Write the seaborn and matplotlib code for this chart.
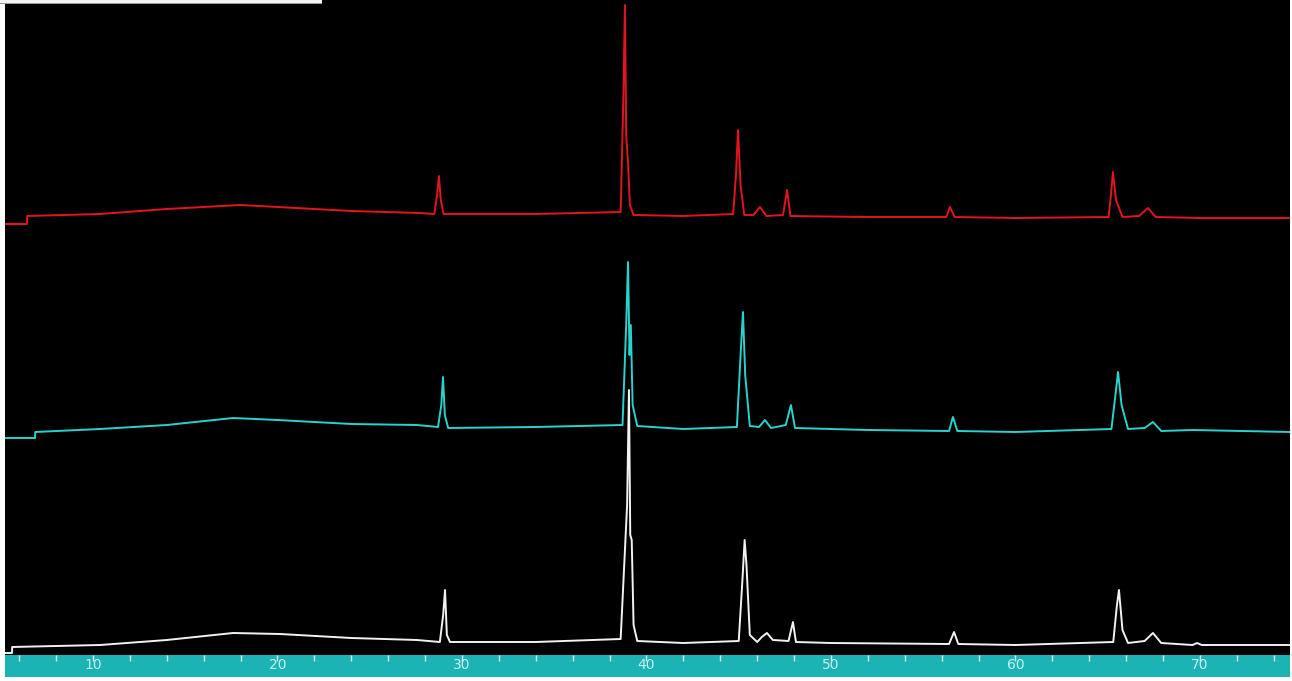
import matplotlib
matplotlib.use("Agg")
import matplotlib.pyplot as plt
from matplotlib.patches import Rectangle
import numpy as np
import pandas as pd
import seaborn as sns

# ---- data (2-theta in degrees, intensity in arbitrary units) ----
white_x = [5.23, 5.61, 5.62, 8.0, 10.38, 14.0, 17.59, 20.14, 24.0, 27.56, 28.8, 28.98, 29.08, 29.18, 29.35,
           34.0, 38.6, 38.95, 39.05, 39.12, 39.2, 39.3, 39.5, 42.0, 45.0, 45.2, 45.32, 45.42, 45.6, 46.0,
           46.25, 46.53, 46.85, 47.7, 47.94, 48.1, 50.0, 56.4, 56.67, 56.9, 60.0, 65.3, 65.5, 65.61, 65.8,
           66.1, 67.0, 67.45, 67.9, 69.6, 69.84, 70.1, 74.88]
white_y = [2, 2, 8, 9, 10, 15, 22, 21, 17, 15, 13, 40, 65, 20, 13,
           13, 16, 150, 265, 120, 115, 30, 14, 12, 14, 75, 115, 90, 20, 13,
           18, 22, 15, 14, 33, 13, 12, 11, 23, 11, 10, 13, 50, 65, 25,
           12, 14, 22, 12, 10, 12, 10, 10]

cyan_x = [5.23, 6.86, 6.87, 10.38, 14.0, 17.59, 20.0, 24.0, 27.56, 28.7, 28.88, 28.97, 29.07, 29.25,
          34.0, 38.7, 38.9, 39.0, 39.08, 39.15, 39.25, 39.5, 42.0, 44.9, 45.1, 45.23, 45.35, 45.6,
          46.1, 46.42, 46.75, 47.55, 47.83, 48.05, 52.0, 56.4, 56.61, 56.85, 60.0, 65.2, 65.45, 65.56,
          65.75, 66.1, 67.0, 67.45, 67.9, 69.62, 74.88]
cyan_y = [217, 217, 223, 226, 230, 237, 235, 231, 230, 228, 250, 278, 240, 227,
          228, 230, 330, 393, 300, 330, 250, 229, 226, 228, 300, 343, 280, 229,
          228, 235, 227, 230, 250, 227, 225, 224, 238, 224, 223, 226, 265, 283,
          250, 226, 227, 233, 224, 225, 223]

red_x = [5.23, 6.42, 6.43, 10.38, 14.0, 17.97, 20.0, 24.0, 27.72, 28.5, 28.65, 28.75, 28.85, 29.0,
         34.0, 38.6, 38.75, 38.83, 38.9, 39.0, 39.1, 39.3, 42.0, 44.7, 44.85, 44.96, 45.1, 45.3,
         45.8, 46.15, 46.5, 47.4, 47.62, 47.8, 52.0, 56.25, 56.45, 56.7, 60.0, 65.05, 65.2, 65.28,
         65.45, 65.8, 66.7, 67.18, 67.6, 70.0, 74.88]
red_y = [431, 431, 439, 441, 446, 450, 448, 444, 442, 441, 460, 479, 455, 441,
         441, 443, 560, 650, 520, 492, 450, 440, 439, 441, 480, 525, 470, 440,
         440, 448, 439, 440, 465, 439, 438, 438, 448, 438, 437, 438, 465, 483,
         455, 438, 439, 447, 438, 437, 437]

tick_values = list(range(6, 75, 2))

series_names = ["white", "cyan", "red"]
series_colors = {"white": "#f2f2f2", "cyan": "#27d3cf", "red": "#e3141e"}

frames = []
for name, xs, ys in [("white", white_x, white_y), ("cyan", cyan_x, cyan_y), ("red", red_x, red_y)]:
    frames.append(pd.DataFrame({"two_theta": xs, "intensity": ys, "sample": name}))
df = pd.concat(frames, ignore_index=True)

W, H = 1292, 681
fig = plt.figure(figsize=(W / 100, H / 100), dpi=100, facecolor="white")

ax = fig.add_axes([5 / W, 26 / H, 1285 / W, 655 / H])
ax.set_facecolor("black")
sns.lineplot(data=df, x="two_theta", y="intensity", hue="sample", hue_order=series_names,
             palette=series_colors, estimator=None, sort=False, units="sample",
             legend=False, linewidth=1.4, ax=ax)
ax.set_xlim(5.23, 74.88)
ax.set_ylim(0, 655)
ax.set_xlabel("")
ax.set_ylabel("")
ax.set_xticks([])
ax.set_yticks([])
for s in ax.spines.values():
    s.set_visible(False)

band = fig.add_axes([5 / W, 4 / H, 1285 / W, 22 / H])
band.set_facecolor("#1bb3b3")
band.set_xlim(5.23, 74.88)
band.set_ylim(0, 1)
band.set_yticks([])
band.set_xticks(tick_values)
band.set_xticklabels([str(v) if v % 10 == 0 else "" for v in tick_values])
band.tick_params(axis="x", which="both", top=True, bottom=False, labelbottom=True, labeltop=False,
                 direction="in", length=4.5, width=1, color="#d9f7f7", labelcolor="#c6f2f2",
                 labelsize=10, pad=-14)
for s in band.spines.values():
    s.set_visible(False)

# top-left strip of the window frame
fig.patches.append(Rectangle((0, 1 - 3 / H), 322 / W, 3 / H, transform=fig.transFigure,
                             facecolor="#f4f4f4", edgecolor="none", zorder=10))
fig.patches.append(Rectangle((0, 1 - 4 / H), 322 / W, 1 / H, transform=fig.transFigure,
                             facecolor="#9a9a9a", edgecolor="none", zorder=10))

fig.savefig("out.png", dpi=100, facecolor="white")
